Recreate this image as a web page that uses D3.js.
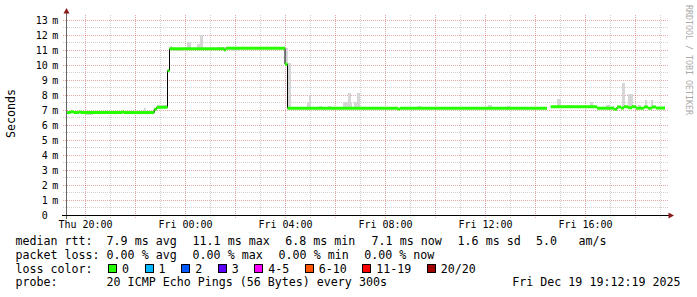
<!DOCTYPE html>
<html>
<head>
<meta charset="utf-8">
<script src="https://cdn.jsdelivr.net/npm/d3@7"></script>
<style>
  html, body { margin: 0; padding: 0; background: #fff; }
  svg { display: block; font-family: "DejaVu Sans Mono", monospace; }
  text { white-space: pre; }
</style>
</head>
<body>
<svg id="smoke" width="697" height="297"></svg>
<script>
// median rtt as steps: hour since Thu 00:00 -> ms (null = no data)
var medianHours = [19.24, 19.42, 19.56, 19.76, 19.84, 21.48, 21.56, 22.77, 22.87, 23.30, 23.38, 25.57, 25.64,
                   28.00, 28.10, 32.52, 32.60, 38.48, 38.63, 40.48, 41.16, 41.28, 41.44, 41.56, 41.72,
                   41.88, 42.04, 42.36, 42.52, 42.68, 42.84];
var medianMs =    [6.83, 6.88, 6.83, 6.86, 6.83, 6.86, 6.83, 7.05, 7.18, 9.62, 11.08, 11.0, 11.11,
                   10.05, 7.11, 7.07, 7.11, null, 7.22, 7.12, 7.05, 7.2, 7.13, 7.22, 7.15,
                   7.22, 7.12, 7.2, 7.12, 7.2, 7.13];
var medianEnd = 43.2;

// smoke (ping spread) blocks
var smokeStart = [20.00, 21.07, 22.12, 22.36, 22.88, 23.40, 23.56, 24.06, 24.48, 24.60, 25.32, 25.88, 26.28, 27.08,
                  28.00, 28.08, 28.88, 28.96, 29.36, 29.72, 30.32, 30.52, 30.76, 30.88, 33.32, 36.12, 36.88,
                  38.88, 39.32, 40.20, 40.84, 41.08, 41.48, 41.72, 42.12, 42.40, 42.64];
var smokeEnd =   [20.32, 21.32, 22.52, 22.44, 23.28, 23.48, 23.84, 24.24, 24.72, 24.72, 25.64, 26.20, 26.60, 27.60,
                  28.12, 28.24, 29.04, 29.04, 29.48, 29.84, 30.68, 30.64, 31.00, 31.00, 33.44, 36.28, 37.00,
                  39.04, 39.48, 40.32, 41.00, 41.16, 41.58, 41.92, 42.24, 42.48, 42.72];
var smokeLow =   [6.67, 6.70, 6.70, 6.83, 7.18, 11.08, 10.95, 11.08, 11.08, 11.08, 11.1, 10.95, 11.1, 11.1,
                  10.05, 7.11, 7.11, 7.11, 7.11, 7.11, 7.11, 7.11, 7.11, 7.11, 7.11, 7.11, 7.11,
                  7.22, 7.22, 7.22, 7.12, 7.05, 7.13, 7.15, 7.12, 7.2, 7.12];
var smokeHigh =  [6.83, 6.83, 6.83, 7.10, 7.33, 11.25, 11.08, 11.55, 11.4, 12.0, 11.2, 11.08, 11.2, 11.2,
                  11.1, 10.1, 7.55, 8.0, 7.25, 7.25, 7.5, 8.1, 7.55, 8.15, 7.25, 7.35, 7.25,
                  7.75, 7.35, 7.55, 7.3, 7.25, 8.8, 8.05, 7.3, 7.65, 7.65];

var startHour = 19.24, endHour = 43.24;
var yMax = 13.333;
var yLabelValues = d3.range(0, 14);
var xLabelHours = [20, 24, 28, 32, 36, 40];

var statMedian = ["7.9 ms avg", "11.1 ms max", "6.8 ms min", "7.1 ms now", "1.6 ms sd", "5.0", "am/s"];
var statLoss = ["0.00 % avg", "0.00 % max", "0.00 % min", "0.00 % now"];
var lossLabels = ["0", "1", "2", "3", "4-5", "6-10", "11-19", "20/20"];
var lossColors = ["#26ff00", "#00b8ff", "#0059ff", "#5e00ff", "#ff00ff", "#ff5500", "#ff0000", "#a10000"];
var probeText = "20 ICMP Echo Pings (56 Bytes) every 300s";
var stampText = "Fri Dec 19 19:12:19 2025";

var base = new Date(2025, 11, 18).getTime();
function hr(h) { return new Date(base + h * 3600e3); }

var svg = d3.select("svg#smoke");

var x = d3.scaleTime().domain([hr(startHour), hr(endHour)]).range([66, 666]);
var y = d3.scaleLinear().domain([0, yMax]).range([215, 15]);

// grid
var grid = svg.append("g").attr("shape-rendering", "crispEdges").attr("stroke-dasharray", "1,1");
var minorY = d3.range(0.5, 13.5, 1);
var majorY = d3.range(1, 14, 1);
grid.selectAll("line.hmin").data(minorY).enter().append("line")
    .attr("x1", 63).attr("x2", 668)
    .attr("y1", function(d) { return Math.round(y(d)) + 0.5; })
    .attr("y2", function(d) { return Math.round(y(d)) + 0.5; })
    .attr("stroke", "rgba(140,140,140,0.4)");
grid.selectAll("line.hmaj").data(majorY).enter().append("line")
    .attr("x1", 63).attr("x2", 668)
    .attr("y1", function(d) { return Math.round(y(d)) + 0.5; })
    .attr("y2", function(d) { return Math.round(y(d)) + 0.5; })
    .attr("stroke", "rgba(200,60,60,0.45)");

var hours = x.ticks(d3.timeHour.every(1));
grid.selectAll("line.v").data(hours).enter().append("line")
    .attr("x1", function(d) { return Math.round(x(d)) + 0.5; })
    .attr("x2", function(d) { return Math.round(x(d)) + 0.5; })
    .attr("y1", 15).attr("y2", 218)
    .attr("stroke", function(d) { return d.getHours() % 2 === 0 ? "rgba(200,60,60,0.45)" : "rgba(140,140,140,0.4)"; });

// smoke
var smoke = smokeStart.map(function(s, i) { return {s: s, e: smokeEnd[i], lo: smokeLow[i], hi: smokeHigh[i]}; });
svg.append("g").attr("shape-rendering", "crispEdges")
  .selectAll("rect").data(smoke).enter().append("rect")
    .attr("x", function(d) { return x(hr(d.s)); })
    .attr("width", function(d) { return x(hr(d.e)) - x(hr(d.s)); })
    .attr("y", function(d) { return y(d.hi); })
    .attr("height", function(d) { return y(d.lo) - y(d.hi); })
    .attr("fill", "#d6d6d6");

// median: black step line, then coloured horizontal pieces
var pts = [];
medianHours.forEach(function(h, i) {
  var next = i + 1 < medianHours.length ? medianHours[i + 1] : medianEnd;
  if (medianMs[i] == null) { pts.push([h, null]); return; }
  pts.push([h, medianMs[i]], [next, medianMs[i]]);
});
var line = d3.line()
    .defined(function(d) { return d[1] != null; })
    .x(function(d) { return x(hr(d[0])); })
    .y(function(d) { return y(d[1]); });

svg.append("path").datum(pts)
    .attr("d", line)
    .attr("fill", "none")
    .attr("stroke", "#000")
    .attr("stroke-width", 1);

var segs = [];
medianHours.forEach(function(h, i) {
  var next = i + 1 < medianHours.length ? medianHours[i + 1] : medianEnd;
  if (medianMs[i] != null) segs.push([[h, medianMs[i]], [next, medianMs[i]]]);
});
svg.append("g").selectAll("path").data(segs).enter().append("path")
    .attr("d", line)
    .attr("fill", "none")
    .attr("stroke", lossColors[0])
    .attr("stroke-width", 3);

// axes
svg.append("line").attr("x1", 66.5).attr("x2", 66.5).attr("y1", 219).attr("y2", 11)
    .attr("stroke", "#666").attr("shape-rendering", "crispEdges");
svg.append("line").attr("x1", 62).attr("x2", 671).attr("y1", 215.5).attr("y2", 215.5)
    .attr("stroke", "#000").attr("shape-rendering", "crispEdges");
svg.append("path").attr("d", "M63.5,13.5 L69.5,13.5 L66.5,8 Z").attr("fill", "#8b1a1a");
svg.append("path").attr("d", "M668.5,212.5 L668.5,218.5 L674,215.5 Z").attr("fill", "#8b1a1a");

// y labels
var yl = svg.append("g").attr("font-size", 10).attr("fill", "#000");
yl.selectAll("text.n").data(yLabelValues).enter().append("text")
    .attr("x", 47.8)
    .attr("y", function(d) { return y(d) + 3.6; })
    .attr("text-anchor", "end")
    .text(function(d) { return d; });
yl.selectAll("text.u").data(yLabelValues.filter(function(d) { return d > 0; })).enter().append("text")
    .attr("x", 52.2)
    .attr("y", function(d) { return y(d) + 3.6; })
    .text("m");

// x labels
var xa = svg.append("g")
    .attr("transform", "translate(0,215)")
    .call(d3.axisBottom(x)
      .tickValues(xLabelHours.map(hr))
      .tickFormat(d3.timeFormat("%a %H:%M"))
      .tickSize(0)
      .tickPadding(6.2));
xa.select(".domain").remove();
xa.attr("font-family", "DejaVu Sans Mono").attr("font-size", 10);
xa.selectAll("text").attr("fill", "#000");

// titles
svg.append("text")
    .attr("transform", "translate(15,113.5) rotate(-90)")
    .attr("text-anchor", "middle")
    .attr("font-size", 11.65)
    .text("Seconds");
svg.append("text")
    .attr("transform", "translate(685.5,5) rotate(90)")
    .attr("font-size", 8.3)
    .attr("fill", "#aaa")
    .text("RRDTOOL / TOBI OETIKER");

// legend
var lg = svg.append("g").attr("font-size", 11.65).attr("fill", "#000");
var rows = [245, 258.8, 272.6, 286.4];
lg.append("text").attr("x", 15.5).attr("y", rows[0]).text("median rtt:");
var medianX = [106.6, 192.6, 285.3, 371.6, 457.6, 536, 578.6];
statMedian.forEach(function(s, i) {
  lg.append("text").attr("x", medianX[i]).attr("y", rows[0]).text(s);
});
lg.append("text").attr("x", 15.5).attr("y", rows[1]).text("packet loss:");
var lossX = [106.6, 192.6, 278.6, 364.3];
statLoss.forEach(function(s, i) {
  lg.append("text").attr("x", lossX[i]).attr("y", rows[1]).text(s);
});
lg.append("text").attr("x", 15.5).attr("y", rows[2]).text("loss color:");
var bx = 108.5;
lossLabels.forEach(function(l, i) {
  lg.append("rect")
      .attr("x", bx).attr("y", rows[2] - 8)
      .attr("width", 8).attr("height", 8)
      .attr("fill", lossColors[i])
      .attr("stroke", "#000")
      .attr("shape-rendering", "crispEdges");
  var t = lg.append("text").attr("x", bx + 13.6).attr("y", rows[2]).text(l);
  bx = bx + 13.6 + t.node().getComputedTextLength() + 15.9;
});
lg.append("text").attr("x", 15.5).attr("y", rows[3]).text("probe:");
lg.append("text").attr("x", 106.6).attr("y", rows[3]).text(probeText);
lg.append("text").attr("x", 680.5).attr("y", rows[3]).attr("text-anchor", "end").text(stampText);
</script>
</body>
</html>
